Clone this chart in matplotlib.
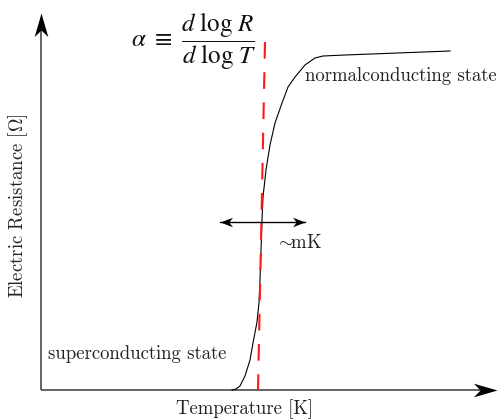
import numpy as np
import matplotlib
matplotlib.use("Agg")
import matplotlib.pyplot as plt
from matplotlib.path import Path

plt.rcParams["mathtext.fontset"] = "cm"

# R(T) curve (arbitrary units, origin at the axes corner)
temperature = [191, 195, 199, 204, 209, 212, 216, 218, 219, 220, 221, 222,
               225, 229, 234, 241, 247, 254, 264, 274, 282, 304, 409]
resistance = [0, 1, 4, 14, 30, 47, 68, 87, 110, 140, 170, 193,
              220, 245, 267, 287, 303, 313, 325, 332, 334, 335, 339]

# tangent at the transition (the d log R / d log T slope)
tangent_t = [224, 217]
tangent_r = [348, 0]

# transition width marker (~mK)
width_t = [179, 264]
width_r = [168, 168]

x_max = 456
y_max = 377


def stealth(angle_deg, half_width, notch):
    """Concave arrow head with its tip at the origin, rotated by angle_deg."""
    verts = np.array([[0, 0], [-1, half_width], [-notch, 0], [-1, -half_width], [0, 0]])
    a = np.deg2rad(angle_deg)
    rot = np.array([[np.cos(a), -np.sin(a)], [np.sin(a), np.cos(a)]])
    verts = verts @ rot.T
    codes = [Path.MOVETO, Path.LINETO, Path.LINETO, Path.LINETO, Path.CLOSEPOLY]
    return Path(verts, codes)


fig = plt.figure(figsize=(4.99, 4.19), dpi=100)
ax = fig.add_axes([41 / 499, 29 / 419, 456 / 499, 377 / 419])
ax.set_xlim(0, x_max)
ax.set_ylim(0, y_max)
ax.axis("off")

axis_color = "#4a4a4a"
big_head = 24  # head length in data units (same as pixels here)

# axes with arrow heads
ax.plot([0, x_max - big_head * 0.7], [0, 0], color=axis_color, lw=1.2,
        clip_on=False, solid_capstyle="butt")
ax.plot([0, 0], [0, y_max - big_head * 0.7], color=axis_color, lw=1.2,
        clip_on=False, solid_capstyle="butt")
ax.plot([x_max], [0], marker=stealth(0, 0.29, 0.72), ms=34, mew=0, mfc="black",
        clip_on=False)
ax.plot([0], [y_max], marker=stealth(90, 0.29, 0.72), ms=34, mew=0, mfc="black",
        clip_on=False)

# resistance curve
ax.plot(temperature, resistance, color="black", lw=0.8, clip_on=False,
        solid_joinstyle="round")

# tangent line
ax.plot(tangent_t, tangent_r, color="#ff1a1a", lw=1.5, ls=(0, (8, 6.5)),
        clip_on=False)

# width double arrow
ax.plot(width_t, width_r, color="black", lw=1.0, clip_on=False)
ax.plot([width_t[0]], [width_r[0]], marker=stealth(180, 0.38, 0.7), ms=18,
        mew=0, mfc="black", clip_on=False)
ax.plot([width_t[1]], [width_r[1]], marker=stealth(0, 0.38, 0.7), ms=18,
        mew=0, mfc="black", clip_on=False)

font = dict(family="cmr10", fontsize=13.5, color="#222222")
ax.text(264, 314, "normalconducting state", ha="left", va="center", **font)
ax.text(7, 36, "superconducting state", ha="left", va="center", **font)
ax.text(234, 147, r"$\sim\!\!\mathrm{mK}$", ha="left", va="center", **font)
ax.text(204, -19, "Temperature [K]", ha="center", va="center", clip_on=False, **font)
ax.text(-23, 184, r"Electric Resistance [$\Omega$]", ha="center", va="center",
        rotation=90, clip_on=False, **font)

ax.text(153, 349, r"$\alpha\ \equiv\ \dfrac{d\ \log\, R}{d\ \log\, T}$", ha="center",
        va="center", fontsize=18, math_fontfamily="stix", color="#111111")

fig.savefig("out.png", dpi=100)
